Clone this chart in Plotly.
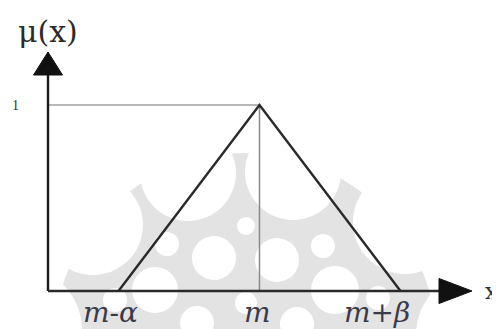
import plotly.graph_objects as go

# === data: triangular membership function ===
x_points = [1, 3, 5]          # m-alpha, m, m+beta
mu_points = [0, 1, 0]
tick_labels = ["<i>m</i>-<i>α</i>", "<i>m</i>", "<i>m</i>+<i>β</i>"]
label_shift = [-8, -2, -24]   # label offsets (px) from their x positions
peak_x = 3
peak_mu = 1

# page pixel -> data helpers (plot div sits 8px in from page corner)
PX0, PX_UNIT = 48, 70.5      # x=0 at page px 48, 70.5 px per unit
PY0, PY_UNIT = 291, 186      # mu=0 at page px 291, 186 px per unit


def dx(px):
    return (px - PX0) / PX_UNIT


def dy(py):
    return (PY0 - py) / PY_UNIT


x_axis_end, x_tip = dx(439), dx(472)
y_axis_end, y_tip = dy(75), dy(52)
x_head_half = 12.5 / PY_UNIT
y_head_half = 14.5 / PX_UNIT

# faint background watermark (page px centre, radius, colour), drawn in order
WM_GRAY = "#e3e3e3"
watermark = [
    (245, 345, 192, WM_GRAY),
    (93, 225, 50, "white"), (188, 173, 48, "white"), (293, 172, 48, "white"),
    (405, 222, 52, "white"), (18, 330, 64, "white"), (480, 335, 64, "white"),
    (214, 258, 22, "white"), (277, 260, 22, "white"),
    (155, 290, 23, "white"), (335, 290, 24, "white"),
    (197, 323, 17, "white"), (297, 324, 17, "white"),
    (246, 303, 11, "white"), (323, 246, 12, "white"), (167, 244, 12, "white"),
    (246, 226, 9, "white"), (115, 300, 12, "white"), (378, 298, 12, "white"),
]

fig = go.Figure()

for cx, cy, r, col in watermark:
    fig.add_shape(type="circle", xref="x", yref="y",
                  xsizemode="pixel", ysizemode="pixel",
                  xanchor=dx(cx), yanchor=dy(cy),
                  x0=-r, x1=r, y0=-r, y1=r,
                  fillcolor=col, line=dict(width=0), layer="below")

# helper lines (gray)
fig.add_trace(go.Scatter(x=[0, peak_x], y=[peak_mu, peak_mu], mode="lines",
                         line=dict(color="#a0a0a0", width=1.5), hoverinfo="skip"))
fig.add_trace(go.Scatter(x=[peak_x, peak_x], y=[0, peak_mu], mode="lines",
                         line=dict(color="#8a8a8a", width=1.5), hoverinfo="skip"))

# axes
fig.add_trace(go.Scatter(x=[0, 0], y=[0, y_axis_end], mode="lines",
                         line=dict(color="#1a1a1a", width=2.4), hoverinfo="skip"))
fig.add_trace(go.Scatter(x=[0, x_axis_end], y=[0, 0], mode="lines",
                         line=dict(color="#2a2a2a", width=2.4), hoverinfo="skip"))

# arrow heads
fig.add_trace(go.Scatter(x=[-y_head_half, y_head_half, 0, -y_head_half],
                         y=[y_axis_end, y_axis_end, y_tip, y_axis_end],
                         mode="lines", fill="toself", fillcolor="#111111",
                         line=dict(color="#111111", width=1), hoverinfo="skip"))
fig.add_trace(go.Scatter(x=[x_axis_end, x_axis_end, x_tip, x_axis_end],
                         y=[-x_head_half, x_head_half, 0, -x_head_half],
                         mode="lines", fill="toself", fillcolor="#111111",
                         line=dict(color="#111111", width=1), hoverinfo="skip"))

# membership triangle
fig.add_trace(go.Scatter(x=x_points, y=mu_points, mode="lines",
                         line=dict(color="#2a2a2a", width=2.4), hoverinfo="skip"))

# labels
for xv, txt, sh in zip(x_points, tick_labels, label_shift):
    fig.add_annotation(x=xv, y=0, text=txt, showarrow=False, yshift=-21, xshift=sh,
                       font=dict(family="DejaVu Serif", size=28, color="#3a3a4a"))

fig.add_annotation(x=0, y=dy(31), text="μ(x)", showarrow=False,
                   font=dict(family="DejaVu Serif", size=30, color="#2a2a2a"))
fig.add_annotation(x=dx(15), y=peak_mu, text="1", showarrow=False,
                   font=dict(family="Liberation Serif", size=14, color="#333333"))
fig.add_annotation(x=dx(500), y=0, text="x", showarrow=False, xanchor="right",
                   font=dict(family="DejaVu Serif", size=22, color="#333333"))

fig.update_layout(
    width=492, height=321,
    margin=dict(l=0, r=0, t=0, b=0),
    paper_bgcolor="white", plot_bgcolor="white",
    showlegend=False,
    xaxis=dict(range=[dx(8), dx(500)], visible=False, fixedrange=True),
    yaxis=dict(range=[dy(329), dy(8)], visible=False, fixedrange=True),
)

fig.write_html("out.html")
